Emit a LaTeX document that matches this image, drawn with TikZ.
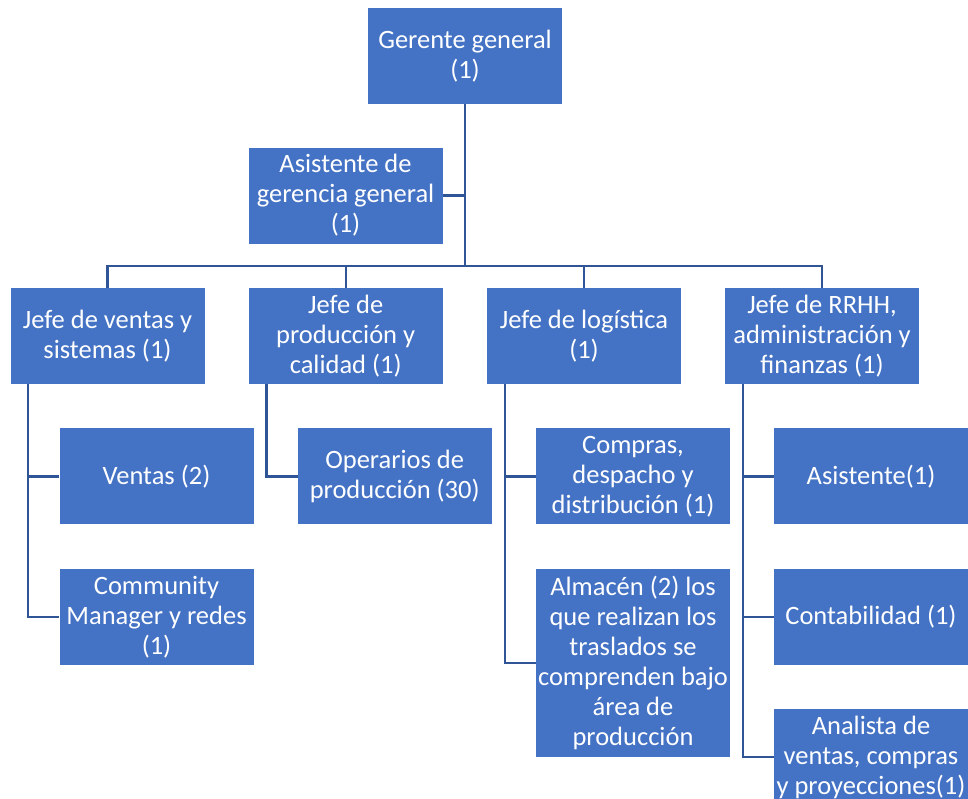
\documentclass[tikz,border=0pt]{standalone}
\usepackage{fontspec}
\setmainfont{Carlito}
\usetikzlibrary{positioning}
\definecolor{boxblue}{HTML}{4472C4}
\definecolor{linkblue}{HTML}{2F5597}

\begin{document}
\begin{tikzpicture}[
	x=1pt, y=-1pt,
	node distance=44pt,
	box/.style = {fill=boxblue, text=white, minimum width=194pt, minimum height=96pt,
	              inner sep=0pt, align=center, font=\fontsize{26.5}{30}\selectfont},
	tall/.style = {minimum height=188pt},
	sub/.style = {below=of #1, xshift=49pt},
	tap/.style = {xshift=18pt},
	link/.style = {draw=linkblue, line width=2.3pt}
     ]
		\useasboundingbox (0,0) rectangle (968,798);
		\clip (0,0) rectangle (968,798);
%
		\node (ger) [box] at (465,56) {Gerente general\\(1)};
		\node (asis) [box] at (345.5,195.5) {Asistente de\\gerencia general\\(1)};
%
		\node (jv) [box] at (107.5,336) {Jefe de ventas y\\sistemas (1)};
		\node (jp) [box] at (345.7,336) {Jefe de\\producción y\\calidad (1)};
		\node (jl) [box] at (584,336) {Jefe de logística\\(1)};
		\node (jr) [box] at (822,336) {Jefe de RRHH,\\administración y\\finanzas (1)};
%
		\node (ven) [box, sub=jv] {Ventas (2)};
		\node (cm) [box, below=of ven] {Community\\Manager y redes\\(1)};
		\node (op) [box, sub=jp] {Operarios de\\producción (30)};
		\node (com) [box, sub=jl] {Compras,\\despacho y\\distribución (1)};
		\node (alm) [box, tall, below=of com] {Almacén (2) los\\que realizan los\\traslados se\\comprenden bajo\\área de\\producción};
		\node (as) [box, sub=jr] {Asistente(1)};
		\node (ctb) [box, below=of as] {Contabilidad (1)};
		\node (an) [box, below=of ctb] {Analista de\\ventas, compras\\y proyecciones(1)};
%
		\coordinate (bus) at (465,266);
		\draw[link] (ger.south) -- (bus);
		\draw[link] (asis.east) -- (asis.east -| bus);
		\foreach \n in {jv,jp,jl,jr}
			\draw[link] (bus) -| (\n.north);
%
		\draw[link] ([tap] jv.south west) |- (ven.west);
		\draw[link] ([tap] jv.south west) |- (cm.west);
		\draw[link] ([tap] jp.south west) |- (op.west);
		\draw[link] ([tap] jl.south west) |- (com.west);
		\draw[link] ([tap] jl.south west) |- (alm.west);
		\draw[link] ([tap] jr.south west) |- (as.west);
		\draw[link] ([tap] jr.south west) |- (ctb.west);
		\draw[link] ([tap] jr.south west) |- (an.west);
\end{tikzpicture}
\end{document}
